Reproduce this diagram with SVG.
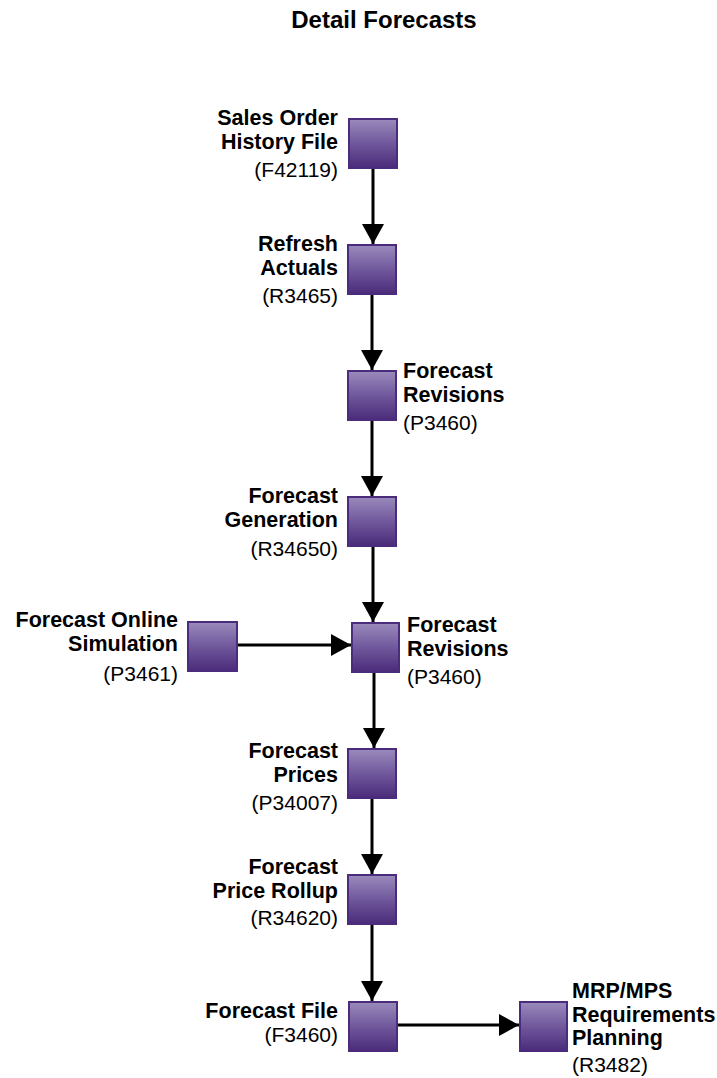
<svg xmlns="http://www.w3.org/2000/svg" width="717" height="1078" viewBox="0 0 717 1078">
  <style>
    .t { font-family: "Liberation Sans", Arial, sans-serif; font-size: 24px; font-weight: bold; fill: #000; }
    .b { font-family: "Liberation Sans", Arial, sans-serif; font-size: 21.5px; font-weight: bold; fill: #000; }
    .r { font-family: "Liberation Sans", Arial, sans-serif; font-size: 21px; fill: #000; }
    .box { fill: url(#boxFill); stroke: #4b2c7c; stroke-width: 2; }
    .end { text-anchor: end; }
    .conn { stroke: #000; stroke-width: 3; fill: none; marker-end: url(#head); }
  </style>
  <defs>
    <linearGradient id="boxFill" x1="0" y1="0" x2="0" y2="1">
      <stop offset="0" stop-color="#9a8abc"/>
      <stop offset="0.5" stop-color="#70589c"/>
      <stop offset="1" stop-color="#4a2b7a"/>
    </linearGradient>
    <marker id="head" markerUnits="userSpaceOnUse" markerWidth="20" markerHeight="22" refX="20" refY="11" orient="auto">
      <path d="M0,0 L20,11 L0,22 z" fill="#000"/>
    </marker>
  </defs>
  <rect width="717" height="1078" fill="#fff"/>

  <text class="t" x="384" y="28" text-anchor="middle">Detail Forecasts</text>

  <!-- connectors -->
  <g id="connectors">
    <line class="conn" x1="373" y1="168" x2="373" y2="244"/>
    <line class="conn" x1="372" y1="294" x2="372" y2="370"/>
    <line class="conn" x1="372" y1="421" x2="372" y2="496"/>
    <line class="conn" x1="373" y1="546" x2="373" y2="622"/>
    <line class="conn" x1="238" y1="645" x2="351" y2="645"/>
    <line class="conn" x1="374" y1="672" x2="374" y2="748"/>
    <line class="conn" x1="372" y1="798" x2="372" y2="874"/>
    <line class="conn" x1="372" y1="924" x2="372" y2="1001"/>
    <line class="conn" x1="398" y1="1025" x2="519" y2="1025"/>
  </g>

  <g id="sales-order-history">
    <rect class="box" x="349" y="119" width="48" height="49"/>
    <text class="b end" x="338" y="125">Sales Order</text>
    <text class="b end" x="338" y="149">History File</text>
    <text class="r end" x="338" y="177">(F42119)</text>
  </g>

  <g id="refresh-actuals">
    <rect class="box" x="348" y="245" width="48" height="49"/>
    <text class="b end" x="338" y="251">Refresh</text>
    <text class="b end" x="338" y="275">Actuals</text>
    <text class="r end" x="338" y="303">(R3465)</text>
  </g>

  <g id="forecast-revisions-1">
    <rect class="box" x="348" y="371" width="48" height="49"/>
    <text class="b" x="403" y="378">Forecast</text>
    <text class="b" x="403" y="402">Revisions</text>
    <text class="r" x="403" y="430">(P3460)</text>
  </g>

  <g id="forecast-generation">
    <rect class="box" x="348" y="497" width="48" height="49"/>
    <text class="b end" x="338" y="503">Forecast</text>
    <text class="b end" x="338" y="527">Generation</text>
    <text class="r end" x="338" y="556">(R34650)</text>
  </g>

  <g id="forecast-online-simulation">
    <rect class="box" x="188" y="622" width="49" height="49"/>
    <text class="b end" x="178" y="627">Forecast Online</text>
    <text class="b end" x="178" y="651">Simulation</text>
    <text class="r end" x="178" y="681">(P3461)</text>
  </g>

  <g id="forecast-revisions-2">
    <rect class="box" x="352" y="623" width="47" height="49"/>
    <text class="b" x="407" y="632">Forecast</text>
    <text class="b" x="407" y="656">Revisions</text>
    <text class="r" x="407" y="684">(P3460)</text>
  </g>

  <g id="forecast-prices">
    <rect class="box" x="348" y="749" width="48" height="49"/>
    <text class="b end" x="338" y="758">Forecast</text>
    <text class="b end" x="338" y="782">Prices</text>
    <text class="r end" x="338" y="810">(P34007)</text>
  </g>

  <g id="forecast-price-rollup">
    <rect class="box" x="348" y="875" width="48" height="49"/>
    <text class="b end" x="338" y="874">Forecast</text>
    <text class="b end" x="338" y="898">Price Rollup</text>
    <text class="r end" x="338" y="925">(R34620)</text>
  </g>

  <g id="forecast-file">
    <rect class="box" x="349" y="1002" width="48" height="49"/>
    <text class="b end" x="338" y="1018">Forecast File</text>
    <text class="r end" x="338" y="1042">(F3460)</text>
  </g>

  <g id="mrp-mps-planning">
    <rect class="box" x="520" y="1002" width="47" height="49"/>
    <text class="b" x="572" y="998">MRP/MPS</text>
    <text class="b" x="572" y="1022">Requirements</text>
    <text class="b" x="572" y="1045">Planning</text>
    <text class="r" x="572" y="1072">(R3482)</text>
  </g>
</svg>
